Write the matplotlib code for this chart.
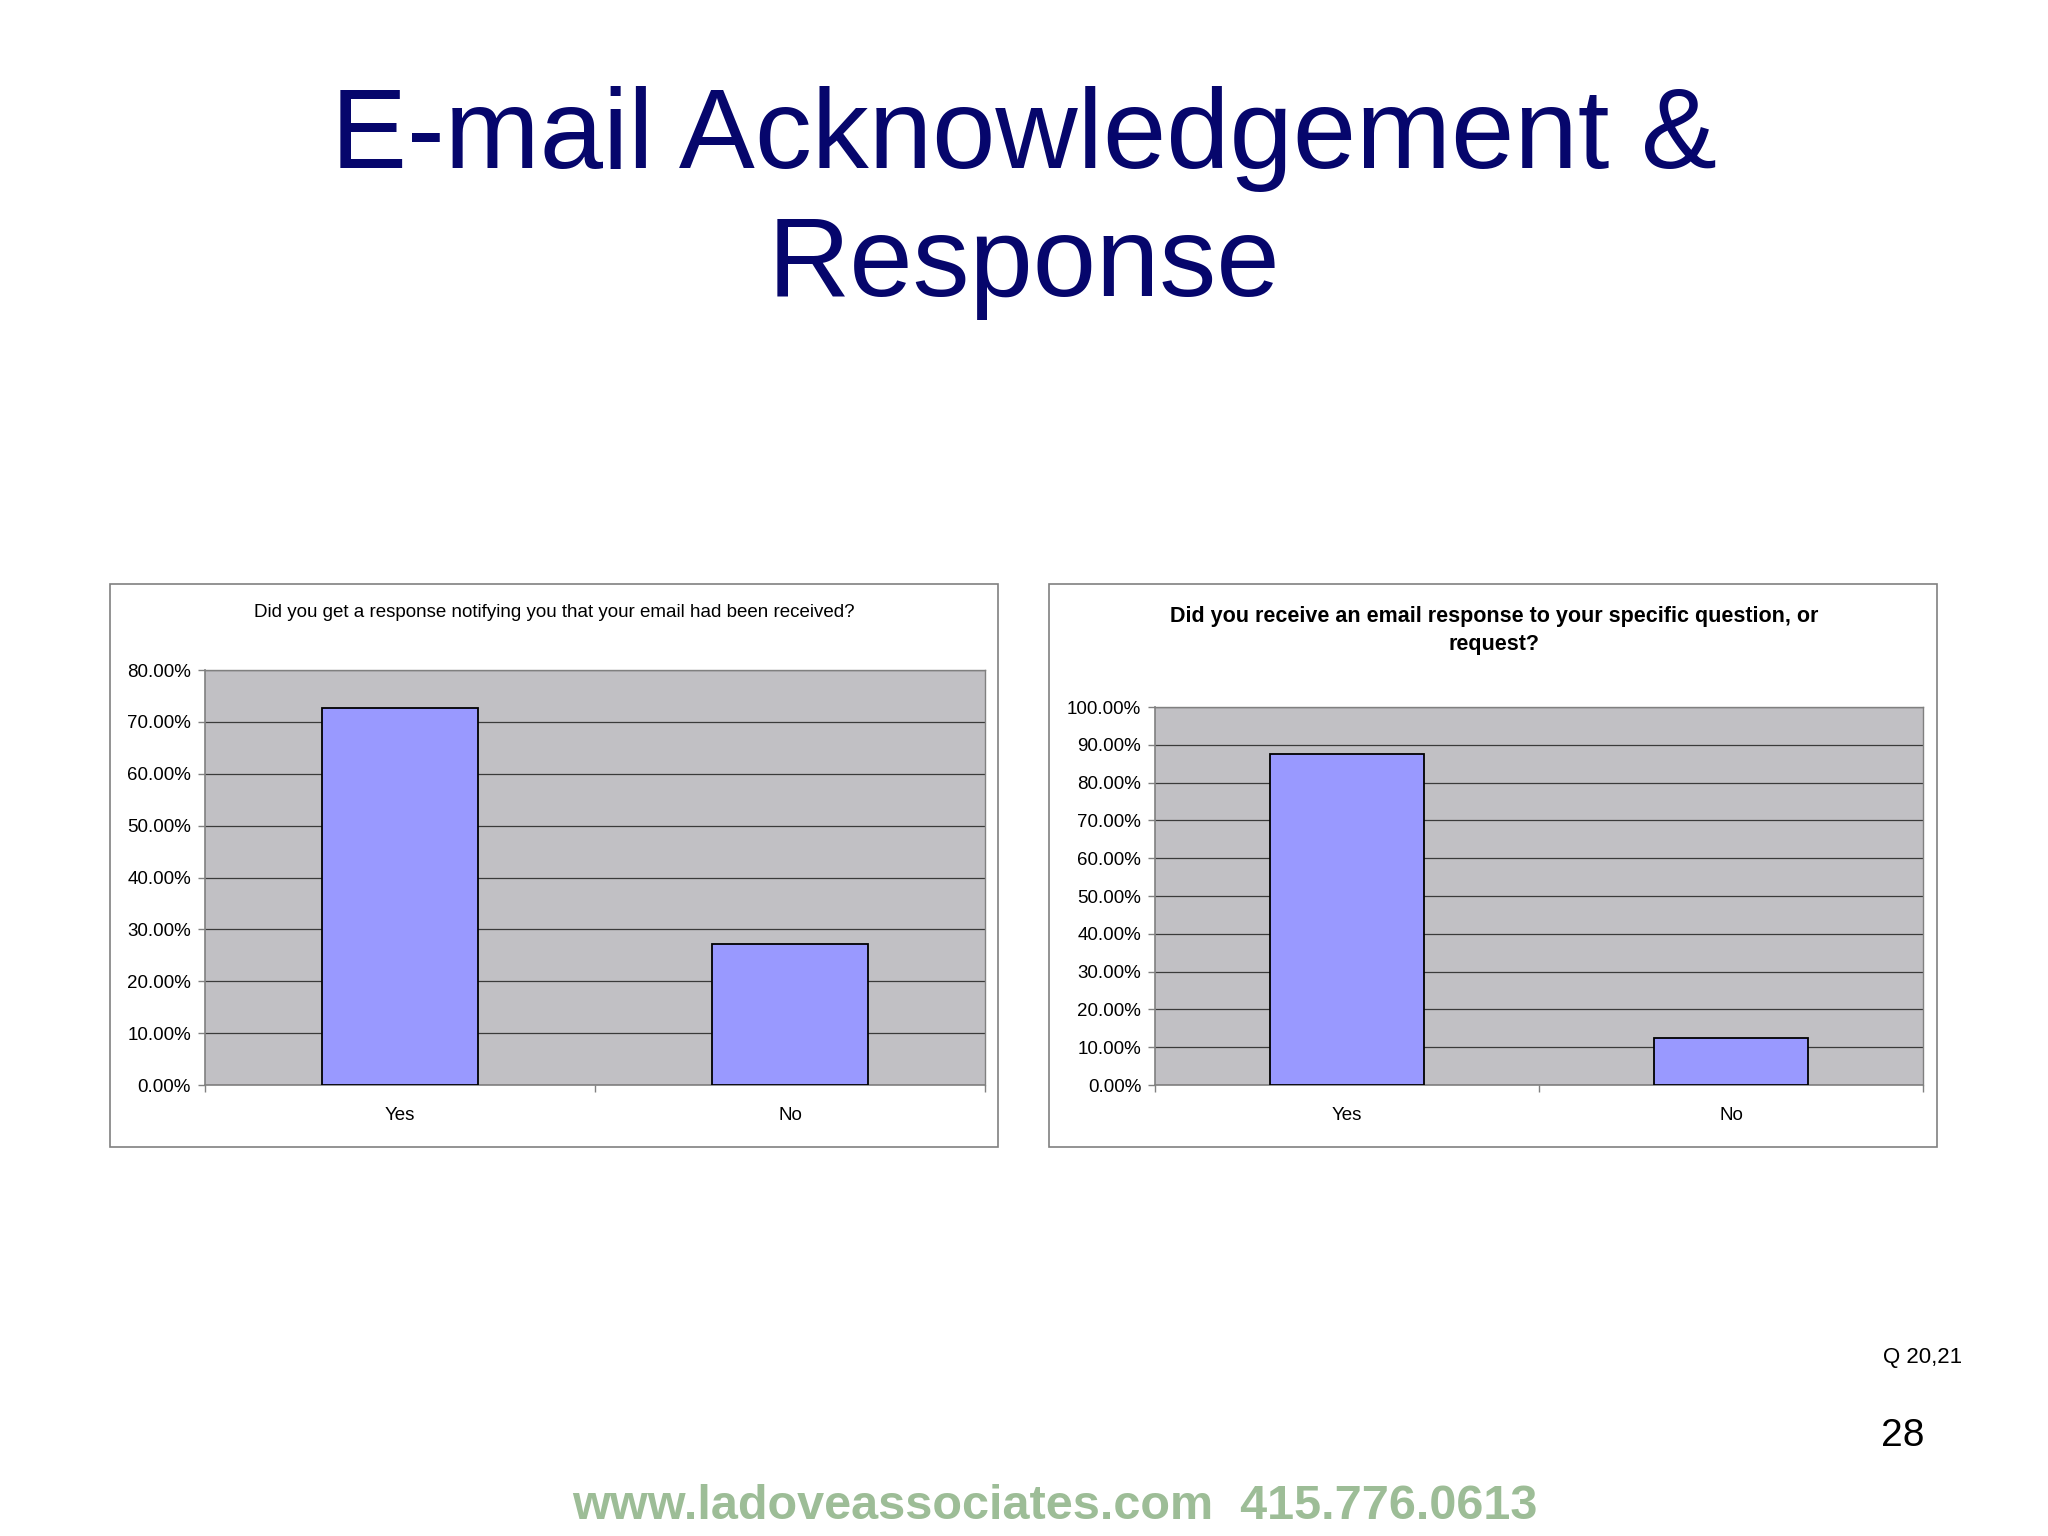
import matplotlib
matplotlib.use("Agg")
import matplotlib.pyplot as plt
from matplotlib.patches import Rectangle
from matplotlib.ticker import FixedLocator, FuncFormatter

# ---- data ----
categories = ["Yes", "No"]
q20_values = [72.73, 27.27]   # % notified email received
q21_values = [87.5, 12.5]     # % received specific response
q20_title = "Did you get a response notifying you that your email had been received?"
q21_title = "Did you receive an email response to your specific question, or\nrequest?"
q20_yticks = [0, 10, 20, 30, 40, 50, 60, 70, 80]
q21_yticks = [0, 10, 20, 30, 40, 50, 60, 70, 80, 90, 100]
question_ref = "Q 20,21"
page_number = "28"
footer = "www.ladoveassociates.com  415.776.0613"

plt.rcParams["font.family"] = ["Liberation Sans", "DejaVu Sans"]

fig = plt.figure(figsize=(20.48, 15.36), dpi=100)
fig.patch.set_facecolor("white")

NAVY = "#06066c"
BAR = "#9999ff"
PLOT_BG = "#c1c0c4"

# slide title
fig.text(0.5, 0.8903, "E-mail Acknowledgement &", ha="center", va="baseline",
         fontsize=82, color=NAVY)
fig.text(0.5, 0.807, "Response", ha="center", va="baseline",
         fontsize=82, color=NAVY)

# chart frames
for x0 in (0.0537, 0.5122):
    fig.patches.append(Rectangle((x0, 0.2533), 0.4336, 0.3665, transform=fig.transFigure,
                                 facecolor="white", edgecolor="#808080", linewidth=1.2,
                                 zorder=-10))


def draw_chart(rect, values, yticks, ymax, title, title_xy, bold, tsize):
    ax = fig.add_axes(rect)
    ax.set_zorder(2)
    ax.set_facecolor(PLOT_BG)
    x = list(range(len(categories)))
    ax.bar(x, values, width=0.4, color=BAR, edgecolor="black", linewidth=1.3, zorder=3)
    ax.set_xlim(-0.5, len(categories) - 0.5)
    ax.set_ylim(0, ymax)
    ax.yaxis.set_major_locator(FixedLocator(yticks))
    ax.yaxis.set_major_formatter(FuncFormatter(lambda v, p: f"{v:.2f}%"))
    ax.grid(axis="y", color="#3a3a3a", linewidth=0.9, zorder=1)
    ax.set_xticks(x)
    ax.set_xticklabels(categories)
    ax.set_xticks([i - 0.5 for i in range(len(categories) + 1)], minor=True)
    ax.tick_params(axis="x", which="major", length=0, pad=16, labelsize=13.5)
    ax.tick_params(axis="x", which="minor", length=5, width=1, color="#808080")
    ax.tick_params(axis="y", length=5, width=1, color="#808080", pad=5, labelsize=13.5)
    for s in ("top", "right"):
        ax.spines[s].set_color("#808080")
        ax.spines[s].set_linewidth(1.0)
    for s in ("left", "bottom"):
        ax.spines[s].set_color("#808080")
        ax.spines[s].set_linewidth(1.2)
    fig.text(title_xy[0], title_xy[1], title, ha="center", va="center",
             fontsize=tsize, fontweight="bold" if bold else "normal",
             linespacing=1.45)
    return ax


draw_chart([0.1001, 0.2936, 0.3809, 0.2702], q20_values, q20_yticks, 80,
           q20_title, (0.2706, 0.601), False, 13.5)
draw_chart([0.5640, 0.2936, 0.3750, 0.2461], q21_values, q21_yticks, 100,
           q21_title, (0.7295, 0.5895), True, 15.5)

fig.text(0.958, 0.1165, question_ref, ha="right", va="center", fontsize=16)
fig.text(0.9395, 0.0586, page_number, ha="right", va="baseline", fontsize=28)
fig.text(0.515, 0.011, footer, ha="center", va="baseline", fontsize=35,
         fontweight="bold", color="#9dbd97")

fig.savefig("out.png", dpi=100, facecolor="white")
